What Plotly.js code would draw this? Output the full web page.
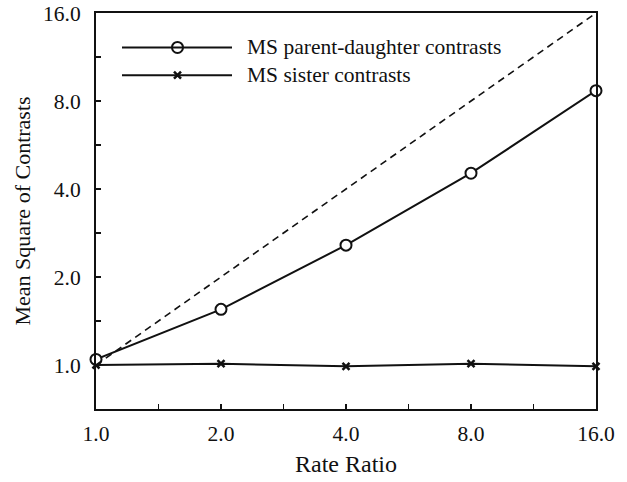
<!DOCTYPE html>
<html>
<head>
<meta charset="utf-8">
<script src="https://cdn.plot.ly/plotly-3.0.1.min.js"></script>
<style>html,body{margin:0;padding:0;background:#fff}#chart{width:627px;height:482px}</style>
</head>
<body>
<div id="chart"></div>
<script>
// Data
const rateRatio = [1, 2, 4, 8, 16];
const msParentDaughter = [1.045, 1.55, 2.57, 4.53, 8.68];
const msSister = [1.0, 1.01, 0.99, 1.01, 0.99];
const refX = [1, 16];
const refY = [1, 16];
const seriesNames = ["MS parent-daughter contrasts", "MS sister contrasts"];

// Ticks
const xTickVals = [1, 2, 4, 8, 16];
const xTickText = ["1.0", "2.0", "4.0", "8.0", "16.0"];
const yTickVals = [1, 2, 4, 8, 16];
const yTickText = ["1.0", "2.0", "4.0", "8.0", "16.0"];
const tickMarkVals = [1, 1.4142, 2, 2.8284, 4, 5.6569, 8, 11.3137, 16];

const FONT = "Liberation Serif, Times New Roman, serif";
const INK = "#111";
const xRange = [0, Math.log10(16)];
const yRange = [Math.log10(0.7071), Math.log10(16)];

const traces = [
  {
    x: refX, y: refY, xaxis: "x3", yaxis: "y3", mode: "lines", showlegend: false, hoverinfo: "skip",
    line: {color: INK, width: 1.6, dash: "7px,5px"}
  },
  {
    x: rateRatio, y: msSister, mode: "lines+markers", name: seriesNames[1], showlegend: false,
    line: {color: INK, width: 2},
    marker: {symbol: "x-thin-open", size: 7, color: INK, line: {color: INK, width: 2.5}}, cliponaxis: false
  },
  {
    x: rateRatio, y: msParentDaughter, mode: "lines+markers", name: seriesNames[0], showlegend: false,
    line: {color: INK, width: 2},
    marker: {symbol: "circle", size: 11, color: "#fff", line: {color: INK, width: 2}}, cliponaxis: false
  }
];

// Legend built from shapes + annotations (paper coordinates)
const L = {x0: 0.052, x1: 0.272, xm: 0.163, xt: 0.298, y1: 0.913, y2: 0.843};
const shapes = [
  {type: "line", xref: "paper", yref: "paper", x0: L.x0, x1: L.x1, y0: L.y1, y1: L.y1, line: {color: INK, width: 2}},
  {type: "line", xref: "paper", yref: "paper", x0: L.x0, x1: L.x1, y0: L.y2, y1: L.y2, line: {color: INK, width: 2}}
];
const layout = {
  width: 627, height: 482,
  margin: {l: 96, r: 31, t: 13, b: 73},
  paper_bgcolor: "#fff", plot_bgcolor: "#fff",
  font: {family: FONT, size: 21, color: INK},
  showlegend: false,
  xaxis: {
    type: "log", range: xRange,
    tickmode: "array", tickvals: xTickVals, ticktext: xTickText,
    ticks: "outside", ticklen: 4, tickwidth: 1, tickcolor: "rgba(0,0,0,0)",
    showline: true, linecolor: INK, linewidth: 2, mirror: true,
    showgrid: false, zeroline: false,
    tickfont: {family: FONT, size: 21.5, color: INK},
    title: {text: "Rate Ratio", font: {family: FONT, size: 24, color: INK}, standoff: 10}
  },
  yaxis: {
    type: "log", range: yRange,
    tickmode: "array", tickvals: yTickVals, ticktext: yTickText,
    ticks: "outside", ticklen: 9, tickwidth: 1, tickcolor: "rgba(0,0,0,0)",
    showline: true, linecolor: INK, linewidth: 2, mirror: true,
    showgrid: false, zeroline: false,
    tickfont: {family: FONT, size: 21.5, color: INK},
    title: {text: "Mean Square of Contrasts", font: {family: FONT, size: 22, color: INK}, standoff: 6}
  },
  // overlay axes that only draw the inside tick marks
  xaxis3: {
    type: "log", range: xRange, overlaying: "x", anchor: "y",
    tickmode: "array", tickvals: tickMarkVals, ticks: "inside", ticklen: 5, tickwidth: 1.5, tickcolor: INK,
    showticklabels: false, showline: false, showgrid: false, zeroline: false
  },
  yaxis3: {
    type: "log", range: yRange, overlaying: "y", anchor: "x",
    tickmode: "array", tickvals: tickMarkVals, ticks: "inside", ticklen: 5, tickwidth: 1.5, tickcolor: INK,
    showticklabels: false, showline: false, showgrid: false, zeroline: false
  },
  shapes: shapes,
  annotations: [
    {xref: "paper", yref: "paper", x: L.xt, y: L.y1, xanchor: "left", yanchor: "middle", showarrow: false, text: seriesNames[0], font: {family: FONT, size: 21.5, color: INK}},
    {xref: "paper", yref: "paper", x: L.xt, y: L.y2, xanchor: "left", yanchor: "middle", showarrow: false, text: seriesNames[1], font: {family: FONT, size: 21.5, color: INK}}
  ]
};

// Legend marker samples on hidden overlay axes
traces.push({
  x: [L.xm], y: [L.y1], xaxis: "x2", yaxis: "y2", mode: "markers", showlegend: false, hoverinfo: "skip",
  marker: {symbol: "circle", size: 11, color: "#fff", line: {color: INK, width: 2}}
});
traces.push({
  x: [L.xm], y: [L.y2], xaxis: "x2", yaxis: "y2", mode: "markers", showlegend: false, hoverinfo: "skip",
  marker: {symbol: "x-thin-open", size: 7, color: INK, line: {color: INK, width: 2.5}}
});
layout.xaxis2 = {overlaying: "x", range: [0, 1], visible: false, fixedrange: true};
layout.yaxis2 = {overlaying: "y", range: [0, 1], visible: false, fixedrange: true};

Plotly.newPlot("chart", traces, layout, {displayModeBar: false, staticPlot: true});
</script>
</body>
</html>
